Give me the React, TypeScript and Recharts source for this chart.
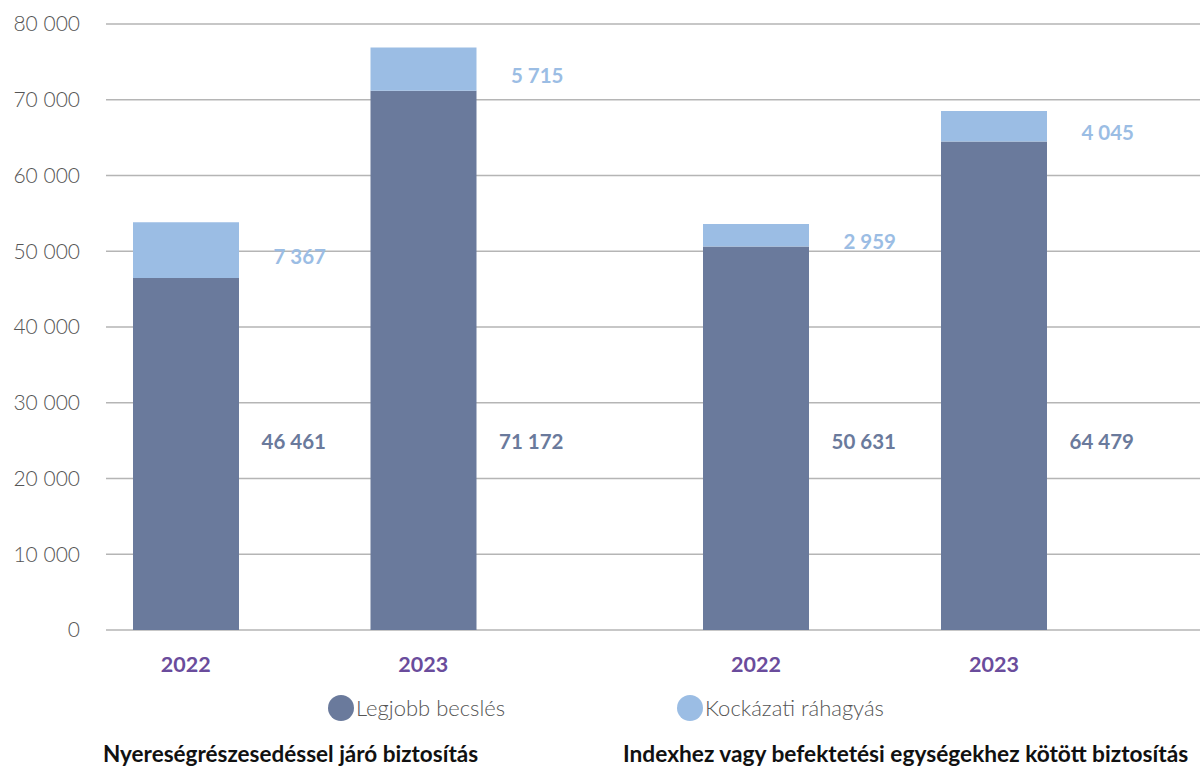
import { Bar, BarChart, CartesianGrid, LabelList, XAxis, YAxis } from 'recharts'

const groupTitles = ['Nyereségrészesedéssel járó biztosítás', 'Indexhez vagy befektetési egységekhez kötött biztosítás']
const years = ['2022', '2023']
const bestEstimateA = [46461, 71172]
const riskMarginA = [7367, 5715]
const bestEstimateB = [50631, 64479]
const riskMarginB = [2959, 4045]
const yTicks = [0, 10000, 20000, 30000, 40000, 50000, 60000, 70000, 80000]
const seriesNames = ['Legjobb becslés', 'Kockázati ráhagyás']

const DARK = '#6a7a9c'
const LIGHT = '#9bbde4'
const PURPLE = '#6a4c9c'
const GRID = '#b5b5b5'
const FONT = 'Lato, "Open Sans", sans-serif'

const dataA = years.map((y, i) => ({ year: y, best: bestEstimateA[i], risk: riskMarginA[i] }))
const dataB = years.map((y, i) => ({ year: y, best: bestEstimateB[i], risk: riskMarginB[i] }))

const fmt = (v: number) => String(v).replace(/\B(?=(\d{3})+(?!\d))/g, ' ')

const darkLabel = (props: any) => {
  const { x, y, width, height, value } = props
  return (
    <text x={x + width + 87} y={y + height - 189} textAnchor="end" dominantBaseline="central"
      fill={DARK} fontSize={20.5} fontWeight={700} fontFamily={FONT}>
      {fmt(value)}
    </text>
  )
}

const lightLabel = (props: any) => {
  const { x, y, width, height, value } = props
  return (
    <text x={x + width + 87} y={y + height / 2 + 6} textAnchor="end" dominantBaseline="central"
      fill={LIGHT} fontSize={20.5} fontWeight={700} fontFamily={FONT}>
      {fmt(value)}
    </text>
  )
}

const yearTick = { fill: PURPLE, fontSize: 21.5, fontWeight: 700, fontFamily: FONT }

function Group({ data, width, padding, showY }: { data: any[]; width: number; padding: { left: number; right: number }; showY: boolean }) {
  return (
    <BarChart width={width} height={690} data={data} margin={{ top: 24, right: 0, bottom: 0, left: 0 }} barSize={106}>
      <CartesianGrid vertical={false} stroke={GRID} strokeWidth={1.5} />
      <XAxis dataKey="year" axisLine={false} tickLine={false} padding={padding} height={60} tickMargin={21} tick={yearTick} />
      <YAxis hide={!showY} width={106} domain={[0, 80000]} ticks={yTicks} interval={0} axisLine={false} tickLine={false}
        tickMargin={20} tickFormatter={fmt}
        tick={{ fill: '#555', fontSize: 21, fontWeight: 300, fontFamily: FONT }} />
      <Bar dataKey="best" stackId="a" fill={DARK} isAnimationActive={false}>
        <LabelList dataKey="best" content={darkLabel} />
      </Bar>
      <Bar dataKey="risk" stackId="a" fill={LIGHT} isAnimationActive={false}>
        <LabelList dataKey="risk" content={lightLabel} />
      </Bar>
    </BarChart>
  )
}

export default function App() {
  const legendItem = (color: string, text: string, left: number) => (
    <div style={{ position: 'absolute', left, top: 694, display: 'flex', alignItems: 'center' }}>
      <div style={{ width: 26, height: 26, borderRadius: 13, background: color, marginRight: 2 }} />
      <span style={{ fontSize: 22, fontWeight: 300, color: '#555', fontFamily: FONT }}>{text}</span>
    </div>
  )
  return (
    <div style={{ position: 'absolute', left: 0, top: 0, width: 1200, height: 770, background: '#fff', fontFamily: FONT }}>
      <div style={{ display: 'flex' }}>
        <Group data={dataA} width={589} padding={{ left: -39, right: 47 }} showY />
        <Group data={dataB} width={611} padding={{ left: 48, right: 87 }} showY={false} />
      </div>
      {legendItem(DARK, seriesNames[0], 328)}
      {legendItem(LIGHT, seriesNames[1], 677)}
      <div style={{ position: 'absolute', left: 103, top: 740, fontSize: 22.5, fontWeight: 700, color: '#111' }}>{groupTitles[0]}</div>
      <div style={{ position: 'absolute', left: 623, top: 740, fontSize: 22.7, fontWeight: 700, color: '#111' }}>{groupTitles[1]}</div>
    </div>
  )
}
